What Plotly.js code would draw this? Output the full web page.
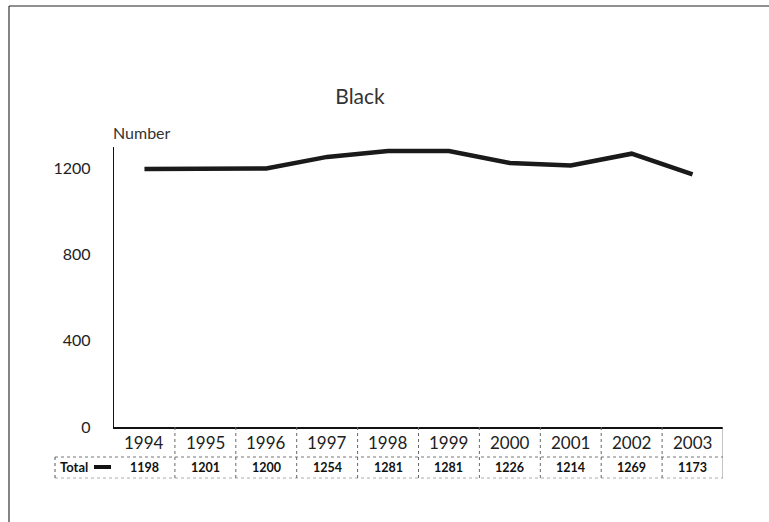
<!DOCTYPE html>
<html>
<head>
<meta charset="utf-8">
<script src="https://cdn.plot.ly/plotly-3.0.1.min.js"></script>
<style>html,body{margin:0;padding:0;background:#fff}#chart{width:769px;height:522px}</style>
</head>
<body>
<div id="chart"></div>
<script>
const years = ["1994","1995","1996","1997","1998","1999","2000","2001","2002","2003"];
const totals = [1198, 1201, 1200, 1254, 1281, 1281, 1226, 1214, 1269, 1173];
const seriesName = "Total";
const yTicks = [0, 400, 800, 1200];

const FONT = "Lato, 'DejaVu Sans', sans-serif";
const W = 769, H = 522;
const L = 114, R = 723, T = 147, B = 427;
// pixel -> paper (plot-area relative) coordinates
const px = x => (x - L) / (R - L);
const py = y => (B - y) / (B - T);

const shapes = [];
// frame: top and left
shapes.push({type:'line', xref:'paper', yref:'paper', x0:px(9), x1:px(769), y0:py(6), y1:py(6), line:{color:'#222', width:1.2}});
shapes.push({type:'line', xref:'paper', yref:'paper', x0:px(9), x1:px(9), y0:py(6), y1:py(522), line:{color:'#333', width:1.2}});
// table horizontal lines
shapes.push({type:'line', xref:'paper', yref:'paper', x0:px(55), x1:px(R), y0:py(457), y1:py(457), line:{color:'#777', width:1, dash:'dot'}});
shapes.push({type:'line', xref:'paper', yref:'paper', x0:px(55), x1:px(R), y0:py(478), y1:py(478), line:{color:'#aaa', width:1, dash:'dot'}});
// label cell left border
shapes.push({type:'line', xref:'paper', yref:'paper', x0:px(55), x1:px(55), y0:py(457), y1:py(478), line:{color:'#555', width:1, dash:'dot'}});
// column dividers
for (let i = 0; i < years.length; i++) {
  shapes.push({type:'line', xref:'x', yref:'paper', x0:i+0.5, x1:i+0.5, y0:py(B), y1:py(478),
    line:{color: i === years.length-1 ? '#888' : '#666', width:1, dash: i === years.length-1 ? 'solid' : 'dot'}});
}
// legend swatch
shapes.push({type:'line', xref:'paper', yref:'paper', x0:px(94), x1:px(111), y0:py(467), y1:py(467), line:{color:'#111', width:4}});

const annotations = [];
years.forEach((yr, i) => {
  annotations.push({xref:'x', yref:'paper', x:i, y:py(442), text:yr, showarrow:false,
    font:{family:FONT, size:17, color:'#222'}, xanchor:'center', yanchor:'middle'});
  annotations.push({xref:'x', yref:'paper', x:i, y:py(467), text:'<b>'+totals[i]+'</b>', showarrow:false,
    font:{family:FONT, size:12.5, color:'#111'}, xanchor:'center', yanchor:'middle'});
});
annotations.push({xref:'paper', yref:'paper', x:px(90), y:py(467), text:'<b>'+seriesName+'</b>', showarrow:false,
  font:{family:FONT, size:13, color:'#111'}, xanchor:'right', yanchor:'middle'});
annotations.push({xref:'paper', yref:'paper', x:px(111), y:py(132), text:'Number', showarrow:false,
  font:{family:FONT, size:16, color:'#333'}, xanchor:'left', yanchor:'middle'});

const trace = {
  x: years.map((_, i) => i), y: totals, type:'scatter', mode:'lines', name: seriesName,
  line:{color:'#1a1a1a', width:4.5, shape:'linear'}, showlegend:false, hoverinfo:'skip'
};

const layout = {
  width: W, height: H,
  margin:{l:L, r:W-R, t:T, b:H-B, pad:0},
  paper_bgcolor:'#fff', plot_bgcolor:'#fff',
  title:{text:'Black', x:360/W, xanchor:'center', y:1-97/H, yanchor:'middle', font:{family:FONT, size:21, color:'#333'}},
  xaxis:{range:[-0.5, years.length-0.5], showticklabels:false, ticks:'', showgrid:false, zeroline:false,
    showline:true, linecolor:'#111', linewidth:1.5},
  yaxis:{range:[0,1300], tickvals:yTicks, ticktext:yTicks.map(String), ticks:'', showgrid:false, zeroline:false,
    showline:true, linecolor:'#111', linewidth:1.2, ticklabelstandoff:19,
    tickfont:{family:FONT, size:16, color:'#222'}},
  shapes, annotations
};
Plotly.newPlot('chart', [trace], layout, {staticPlot:true, displayModeBar:false});
</script>
</body>
</html>
